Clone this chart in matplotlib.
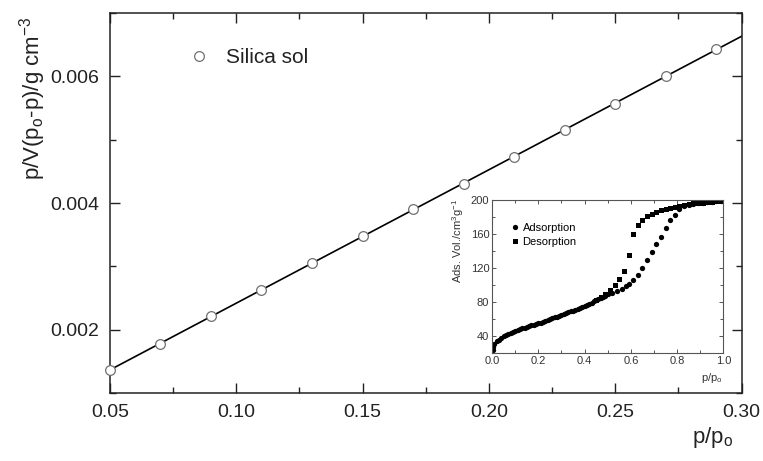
import numpy as np
import matplotlib
matplotlib.use("Agg")
import matplotlib.pyplot as plt
from matplotlib.ticker import MultipleLocator

plt.rcParams['font.family'] = ['Liberation Sans', 'DejaVu Sans']
plt.rcParams['mathtext.fontset'] = 'custom'
plt.rcParams['mathtext.rm'] = 'Liberation Sans'
plt.rcParams['mathtext.it'] = 'Liberation Sans'

# BET plot data
bet_x = [0.05, 0.07, 0.09, 0.11, 0.13, 0.15, 0.17, 0.19, 0.21, 0.23, 0.25, 0.27, 0.29]
bet_y = [0.001365, 0.00178, 0.00221, 0.00263, 0.00306, 0.00348, 0.00390,
         0.00430, 0.00473, 0.00516, 0.00557, 0.00600, 0.00644]

# Isotherm data (inset)
ads_x = [0.002, 0.005, 0.01, 0.02, 0.03, 0.04, 0.05, 0.06, 0.07, 0.08, 0.09, 0.10,
         0.11, 0.12, 0.13, 0.14, 0.15, 0.16, 0.17, 0.18, 0.19, 0.20, 0.21, 0.22,
         0.23, 0.24, 0.25, 0.26, 0.27, 0.28, 0.29, 0.30, 0.31, 0.32, 0.33, 0.34,
         0.35, 0.36, 0.37, 0.38, 0.39, 0.40, 0.41, 0.42, 0.43, 0.44, 0.45, 0.46,
         0.47, 0.48, 0.49, 0.50, 0.52, 0.54, 0.56, 0.58, 0.59, 0.61, 0.63, 0.65,
         0.67, 0.69, 0.71, 0.73, 0.75, 0.77, 0.79, 0.81, 0.83, 0.85, 0.87, 0.89,
         0.91, 0.93, 0.95, 0.97, 0.99]
ads_y = [24, 27, 31, 34, 36, 38, 40, 41, 42, 43.5, 44.5, 46,
         47, 48, 49, 50, 51, 52, 52.5, 53.5, 54.5, 55, 56, 57,
         58, 59, 60, 61, 62, 63, 64, 65, 66, 67, 68, 69,
         70, 71, 72, 73, 74.5, 76, 77, 78, 79.5, 81, 82, 83.5,
         85, 86, 87.5, 89, 91, 93, 96, 99, 101, 106, 112, 120,
         129, 139, 148, 157, 167, 176, 183, 189, 192.5, 194.5, 195.5, 196.5,
         197, 197.5, 198, 198.5, 199]
des_x = [0.99, 0.97, 0.95, 0.93, 0.91, 0.89, 0.87, 0.85, 0.83, 0.81, 0.79, 0.77,
         0.75, 0.73, 0.71, 0.69, 0.67, 0.65, 0.63, 0.61, 0.59, 0.57, 0.55, 0.53,
         0.51, 0.49, 0.47, 0.45]
des_y = [199, 198.5, 198, 197.5, 197, 196.5, 196, 195, 194, 193, 192, 191,
         189.5, 188, 186, 184, 181, 177, 171, 160, 135, 117, 107, 100,
         94, 89, 86, 83]

fig = plt.figure(figsize=(7.63, 4.61), dpi=100)
ax = fig.add_axes([0.144, 0.1475, 0.828, 0.824])

# linear fit line
coef = np.polyfit(bet_x, bet_y, 1)
lx = np.array([0.05, 0.30])
ax.plot(lx, np.polyval(coef, lx), color='black', lw=1.2, zorder=2)
ax.plot(bet_x, bet_y, 'o', mfc='white', mec='#707070', ms=7, mew=0.9,
        label='Silica sol', zorder=3, clip_on=False)

ax.set_xlim(0.05, 0.30)
ax.set_ylim(0.001, 0.007)
ax.xaxis.set_minor_locator(MultipleLocator(0.025))
ax.yaxis.set_minor_locator(MultipleLocator(0.001))
ax.set_yticks([0.002, 0.004, 0.006])
ax.set_yticklabels(['0.002', '0.004', '0.006'], fontsize=14)
ax.set_xticks([0.05, 0.10, 0.15, 0.20, 0.25, 0.30])
ax.set_xticklabels(['0.05', '0.10', '0.15', '0.20', '0.25', '0.30'], fontsize=14)
ax.tick_params(which='both', direction='in', top=True, right=True, color='#222222',
               labelcolor='#222222')
ax.tick_params(which='major', length=7, width=1.0, pad=8)
ax.tick_params(which='minor', length=4, width=1.0)
for s in ax.spines.values():
    s.set_linewidth(1.1)
    s.set_color('#222222')

fig.text(33 / 763, 1 - 98 / 461, r'p/V(p$_\mathregular{o}$-p)/g cm$^\mathregular{-3}$',
         rotation=90, ha='center', va='center', fontsize=16, color='#222222')
fig.text(713 / 763, 1 - 437 / 461, r'p/p$_\mathregular{o}$', ha='center', va='center',
         fontsize=16, color='#222222')

leg = ax.legend(loc='upper left', bbox_to_anchor=(0.095, 0.93), frameon=False,
                fontsize=15, handletextpad=0.3, borderaxespad=0)
for t in leg.get_texts():
    t.set_color('#222222')

# inset
ins = fig.add_axes([0.645, 0.234, 0.303, 0.332])
ins.plot(ads_x, ads_y, 'o', color='black', ms=3.8, mew=0, label='Adsorption')
ins.plot(des_x, des_y, 's', color='black', ms=3.6, mew=0, label='Desorption')
ins.set_xlim(0, 1.0)
ins.set_ylim(20, 200)
ins.xaxis.set_minor_locator(MultipleLocator(0.1))
ins.set_yticks([40, 80, 120, 160, 200])
ins.yaxis.set_minor_locator(MultipleLocator(20))
ins.set_xticks([0.0, 0.2, 0.4, 0.6, 0.8, 1.0])
ins.set_xticklabels(['0.0', '0.2', '0.4', '0.6', '0.8', '1.0'])
ins.tick_params(which='both', direction='in', top=True, right=True, labelsize=8,
                color='#555555', labelcolor='#333333')
ins.tick_params(which='major', length=3, width=0.7, pad=2)
ins.tick_params(which='minor', length=2, width=0.7)
for s in ins.spines.values():
    s.set_linewidth(0.8)
    s.set_color('#555555')
ins.set_ylabel(r'Ads. Vol./cm$^\mathregular{3}$g$^\mathregular{-1}$', fontsize=8, color='#333333')
ins.yaxis.set_label_coords(-0.115, 0.73)
fig.text(712 / 763, 1 - 378 / 461, r'p/p$_\mathregular{o}$', ha='center', va='center',
         fontsize=8, color='#333333')
ins.legend(loc='upper left', bbox_to_anchor=(0.05, 0.88), frameon=False, fontsize=8,
           handletextpad=0.1, borderaxespad=0, labelspacing=0.35, handlelength=1.2)

fig.savefig('out.png', dpi=100)
